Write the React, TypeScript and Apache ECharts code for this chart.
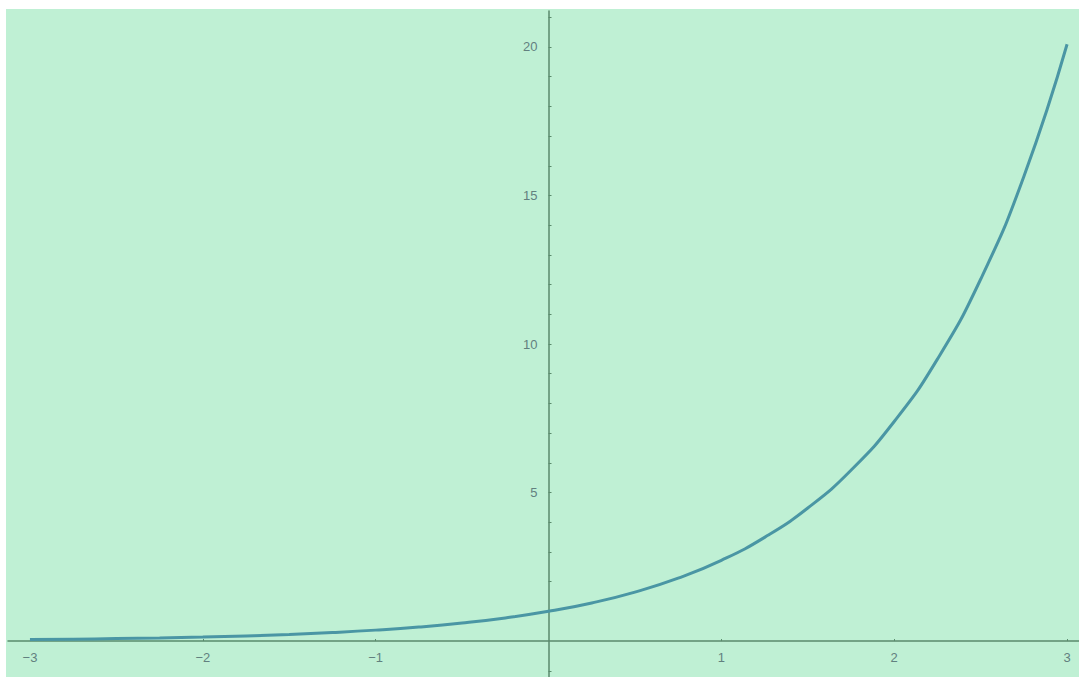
import React, { useEffect, useRef } from "react";
import * as echarts from "echarts";

const xValues = [-3, -2.75, -2.5, -2.25, -2, -1.75, -1.5, -1.25, -1, -0.75, -0.5, -0.25, 0, 0.25, 0.5, 0.75, 1, 1.25, 1.5, 1.75, 2, 2.25, 2.5, 2.75, 3];
const yValues = [0.05, 0.064, 0.082, 0.105, 0.135, 0.174, 0.223, 0.287, 0.368, 0.472, 0.607, 0.779, 1.0, 1.284, 1.649, 2.117, 2.718, 3.49, 4.48, 5.75, 7.39, 9.49, 12.18, 15.64, 20.09];
const xTickLabels = [-3, -2, -1, 1, 2, 3];
const yTickLabels = [5, 10, 15, 20];
const yMinorTicks = [-1, 1, 2, 3, 4, 5, 6, 7, 8, 9, 10, 11, 12, 13, 14, 15, 16, 17, 18, 19, 20, 21];

const BG = "#bff0d4";
const AXIS = "#5a8a6c";
const LABEL = "#62807f";
const LINE = "#4a96a4";
const GRID_LEFT = 2;
const GRID_TOP = 2;

export default function App() {
  const ref = useRef<HTMLDivElement>(null);
  useEffect(() => {
    const chart = echarts.init(ref.current!, null, { renderer: "svg" });
    const data = xValues.map((x, i) => [x, yValues[i]]);
    const build = (xOffset: number, yOffset: number) => ({
      animation: false,
      backgroundColor: BG,
      grid: { left: GRID_LEFT, right: 0, top: GRID_TOP, bottom: 0, containLabel: false, outerBoundsMode: "none" },
      xAxis: {
        type: "value",
        min: -3.127,
        max: 3.069,
        position: "bottom",
        offset: xOffset,
        axisLine: { onZero: false, lineStyle: { color: AXIS, width: 1.5 } },
        axisTick: { show: true, inside: true, length: 2, customValues: xTickLabels, lineStyle: { color: AXIS } },
        axisLabel: {
          customValues: xTickLabels,
          margin: 10,
          fontSize: 13,
          fontFamily: "Liberation Sans, Arial, sans-serif",
          color: LABEL,
          formatter: (v: number) => String(v).replace("-", "\u2212"),
        },
        splitLine: { show: false },
      },
      yAxis: {
        type: "value",
        min: -1.21,
        max: 21.21,
        position: "left",
        offset: yOffset,
        axisLine: { onZero: false, lineStyle: { color: AXIS, width: 1.5 } },
        axisTick: { show: true, inside: true, length: 3, customValues: yMinorTicks, lineStyle: { color: AXIS } },
        axisLabel: {
          customValues: yTickLabels,
          margin: 11,
          fontSize: 13,
          fontFamily: "Liberation Sans, Arial, sans-serif",
          color: LABEL,
        },
        splitLine: { show: false },
      },
      series: [
        {
          type: "line",
          data,
          smooth: true,
          showSymbol: false,
          lineStyle: { color: LINE, width: 3 },
        },
      ],
    });
    chart.setOption(build(0, 0) as any);
    const p = chart.convertToPixel({ gridIndex: 0 }, [0, 0]) as number[];
    const yOffset = -(p[0] - GRID_LEFT);
    const xOffset = -(chart.getHeight() - p[1]);
    chart.setOption(build(xOffset, yOffset) as any);
    return () => chart.dispose();
  }, []);
  return (
    <div
      ref={ref}
      style={{ position: "fixed", left: 6, top: 9, width: 1073, height: 668 }}
    />
  );
}
